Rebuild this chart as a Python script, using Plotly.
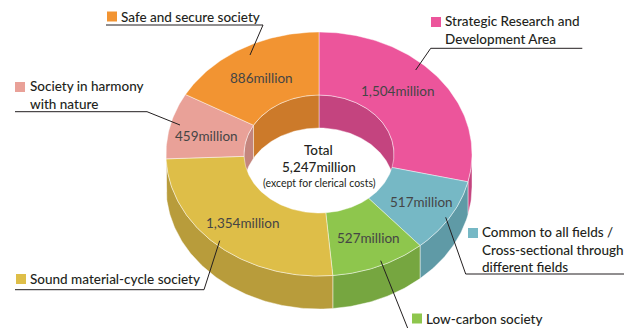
import numpy as np
import plotly.graph_objects as go

# ---------------- data ----------------
categories = [
    "Strategic Research and Development Area",
    "Common to all fields / Cross-sectional through different fields",
    "Low-carbon society",
    "Sound material-cycle society",
    "Society in harmony with nature",
    "Safe and secure society",
]
values = [1504, 517, 527, 1354, 459, 886]
value_labels = ["1,504million", "517million", "527million", "1,354million", "459million", "886million"]
legend_labels = [
    "Strategic Research and<br>Development Area",
    "Common to all fields /<br>Cross-sectional through<br>different fields",
    "Low-carbon society",
    "Sound material-cycle society",
    "Society in harmony<br>with nature",
    "Safe and secure society",
]
total_lines = ["Total", "5,247million", "(except for clerical costs)"]

# ---------------- style ----------------
top_colors = ["#EC559B", "#76B8C5", "#8EC64D", "#DEBE48", "#E9A198", "#F29432"]
side_colors = ["#C4447F", "#5F9AA6", "#76A640", "#B89C3B", "#C4857D", "#CC7A2A"]
FONT = "Lato"
W, H = 634, 328
cx, cy = 319, 154
rx, ry = 153, 122
rxi, ryi = 75, 59
depth = 33
edge = dict(color="rgba(255,255,255,0.55)", width=0.8)

total = sum(values)
ends = np.cumsum(values) / total * 2 * np.pi
starts = np.concatenate([[0], ends[:-1]])


def arc(a, b, rxx, ryy, dy=0.0):
    n = max(4, int(abs(b - a) / (2 * np.pi) * 400))
    t = np.linspace(a, b, n)
    return cx + rxx * np.sin(t), cy - ryy * np.cos(t) + dy


def clip(a, b, lo, hi):
    a2, b2 = max(a, lo), min(b, hi)
    return (a2, b2) if b2 > a2 else None


fig = go.Figure()


def poly(xs, ys, color):
    fig.add_trace(go.Scatter(x=xs, y=ys, mode="lines", fill="toself", fillcolor=color,
                             line=edge, hoverinfo="skip", showlegend=False))


# inner back walls (visible through the hole)
for a, b, c in zip(starts, ends, side_colors):
    for lo, hi in [(0, np.pi / 2), (1.5 * np.pi, 2 * np.pi)]:
        seg = clip(a, b, lo, hi)
        if seg:
            x1, y1 = arc(seg[0], seg[1], rxi, ryi)
            x2, y2 = arc(seg[1], seg[0], rxi, ryi, depth)
            poly(np.concatenate([x1, x2, x1[:1]]), np.concatenate([y1, y2, y1[:1]]), c)

# outer front walls
for a, b, c in zip(starts, ends, side_colors):
    seg = clip(a, b, np.pi / 2, 1.5 * np.pi)
    if seg:
        x1, y1 = arc(seg[0], seg[1], rx, ry)
        x2, y2 = arc(seg[1], seg[0], rx, ry, depth)
        poly(np.concatenate([x1, x2, x1[:1]]), np.concatenate([y1, y2, y1[:1]]), c)

# top faces
for a, b, c in zip(starts, ends, top_colors):
    x1, y1 = arc(a, b, rx, ry)
    x2, y2 = arc(b, a, rxi, ryi)
    poly(np.concatenate([x1, x2, x1[:1]]), np.concatenate([y1, y2, y1[:1]]), c)

# value labels
value_pos = [(397.5, 91), (421, 201.5), (368, 238), (243, 223), (206, 136), (261.5, 77.5)]
for (x, y), t in zip(value_pos, value_labels):
    fig.add_annotation(x=x, y=y, text=t, showarrow=False, xanchor="center", yanchor="middle",
                       font=dict(family=FONT, size=13.5, color="#454545", weight=400))

# center text
fig.add_annotation(x=318, y=149.5, text=total_lines[0], showarrow=False, yanchor="middle",
                   font=dict(family=FONT, size=13.5, color="#231F20", weight=500))
fig.add_annotation(x=319, y=167, text=total_lines[1], showarrow=False, yanchor="middle",
                   font=dict(family=FONT, size=13.5, color="#231F20", weight=500))
fig.add_annotation(x=319, y=182.5, text=total_lines[2], showarrow=False, yanchor="middle",
                   font=dict(family=FONT, size=10.5, color="#231F20"))

# legend-style callouts: square position, text position, leader path
callouts = [
    dict(sq=(431, 17), txt=(443, 30), path="M 415.7 70 L 430.7 48.3 L 582.3 48.3"),
    dict(sq=(468, 228), txt=(480, 249), path="M 445.7 217.3 L 465.7 274 L 624 274"),
    dict(sq=(412, 313.5), txt=(424, 319), path="M 380.7 260.7 L 408 329"),
    dict(sq=(16, 274), txt=(28, 279), path="M 219.7 240.7 L 204 289.7 L 15 289.7"),
    dict(sq=(15, 82), txt=(28, 95), path="M 180 125 L 147 111.7 L 15 111.7"),
    dict(sq=(107, 11.5), txt=(119, 16.5), path="M 250 55 L 263 25 L 106 25"),
]
for co, lab, c in zip(callouts, legend_labels, top_colors):
    sx, sy = co["sq"]
    fig.add_shape(type="rect", x0=sx, x1=sx + 10, y0=sy, y1=sy + 10, xref="x", yref="y",
                  fillcolor=c, line=dict(width=0))
    fig.add_shape(type="path", path=co["path"], xref="x", yref="y",
                  line=dict(color="#231F20", width=1))
    tx, ty = co["txt"]
    fig.add_annotation(x=tx, y=ty, text=lab, showarrow=False, xanchor="left", yanchor="middle",
                       align="left", font=dict(family=FONT, size=13.5, color="#231F20", weight=500))

fig.update_layout(
    width=W, height=H, margin=dict(l=0, r=0, t=0, b=0),
    paper_bgcolor="white", plot_bgcolor="white",
    xaxis=dict(range=[0, W], visible=False, fixedrange=True),
    yaxis=dict(range=[H, 0], visible=False, fixedrange=True),
    showlegend=False,
)
fig.write_html("out.html")
